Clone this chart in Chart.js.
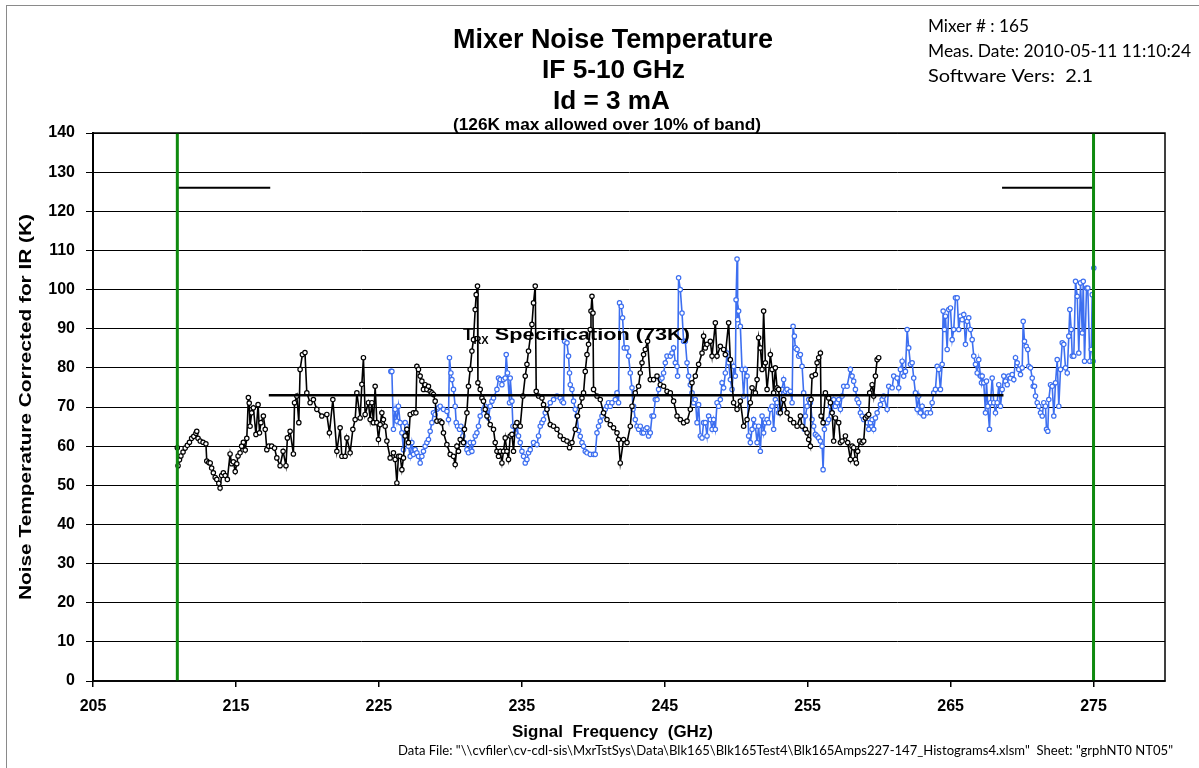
<!DOCTYPE html>
<html>
<head>
<meta charset="utf-8">
<title>Mixer Noise Temperature</title>
<script src="https://cdn.jsdelivr.net/npm/chart.js@4.4.1/dist/chart.umd.min.js"></script>
<style>
  html, body { margin: 0; padding: 0; background: #fff; overflow: hidden; }
  canvas { display: block; }
</style>
</head>
<body>
<canvas id="noiseChart" width="1199" height="768"></canvas>
<script>
const blackFreq = [210.90,210.95,211.05,211.15,211.30,211.45,211.60,211.75,211.90,212.05,212.20,212.26,212.35,212.50,212.70,212.90,212.96,213.10,213.20,213.30,213.42,213.55,213.66,213.80,213.89,214.00,214.12,214.25,214.40,214.59,214.70,214.82,214.95,215.06,215.15,215.29,215.40,215.52,215.65,215.76,215.87,215.93,215.99,216.10,216.22,216.40,216.55,216.65,216.75,216.92,217.05,217.16,217.30,217.50,217.70,217.86,218.09,218.30,218.50,218.60,218.79,219.02,219.10,219.26,219.40,219.49,219.65,219.83,219.96,220.19,220.42,220.66,221.01,221.36,221.54,221.78,222.06,222.29,222.41,222.64,222.76,222.99,223.18,223.34,223.46,223.69,223.81,223.92,224.04,224.27,224.39,224.51,224.62,224.74,224.86,224.97,225.09,225.21,225.32,225.44,225.56,225.79,226.02,226.14,226.26,226.37,226.49,226.61,226.72,226.84,226.96,227.07,227.19,227.42,227.59,227.66,227.77,227.89,228.01,228.12,228.24,228.36,228.47,228.59,228.71,228.82,228.94,229.06,229.29,229.41,229.52,229.76,229.99,230.22,230.34,230.46,230.57,230.69,230.92,230.99,231.16,231.27,231.39,231.51,231.62,231.74,231.81,231.90,231.93,232.09,232.21,232.32,232.44,232.56,232.79,233.02,233.14,233.26,233.37,233.49,233.61,233.72,233.84,233.96,234.07,234.19,234.31,234.42,234.54,234.66,234.89,235.08,235.24,235.36,235.47,235.71,235.82,235.94,236.01,236.17,236.41,236.52,236.76,236.99,237.22,237.46,237.69,237.92,238.16,238.34,238.51,238.74,238.90,239.09,239.21,239.32,239.44,239.56,239.67,239.79,239.84,239.91,239.98,240.02,240.26,240.49,240.72,240.96,241.19,241.42,241.66,241.77,241.89,242.12,242.36,242.59,242.71,242.94,243.17,243.29,243.41,243.52,243.64,243.80,243.99,244.22,244.46,244.69,244.92,245.16,245.39,245.62,245.86,246.09,246.32,246.56,246.79,246.91,247.14,247.37,247.61,247.72,247.84,247.96,248.19,248.31,248.54,248.66,248.89,249.12,249.24,249.47,249.59,249.82,250.06,250.29,250.52,250.76,250.99,251.11,251.34,251.46,251.57,251.69,251.81,251.92,252.04,252.16,252.39,252.51,252.62,252.74,252.86,252.97,253.09,253.32,253.56,253.79,254.02,254.26,254.49,254.61,254.84,254.96,255.07,255.19,255.24,255.31,255.54,255.66,255.77,255.89,255.94,256.08,256.24,256.47,256.59,256.71,256.82,256.94,257.17,257.29,257.41,257.64,257.80,257.99,258.11,258.22,258.34,258.41,258.50,258.64,258.81,258.92,259.04,259.16,259.27,259.34,259.51,259.62,259.74,259.86,259.97];
const blackTemp = [59.6,55.0,56.5,57.5,58.5,59.5,60.2,61.0,62.0,62.5,63.3,63.8,62.0,61.3,61.0,60.6,56.2,55.8,55.7,54.4,53.2,52.0,51.5,50.5,49.3,52.5,53.2,52.5,51.5,58.0,55.5,56.0,53.5,55.5,57.5,58.3,60.0,61.0,59.0,62.0,72.4,71.0,65.1,68.5,69.8,63.0,70.6,63.4,66.0,67.7,64.3,59.1,60.0,60.0,59.5,57.0,55.0,58.7,55.0,62.1,63.8,58.0,71.1,72.8,66.0,79.6,83.4,83.9,73.6,71.1,71.9,69.4,67.7,68.1,63.4,71.9,58.7,64.7,57.4,57.4,62.1,58.3,64.3,66.8,73.6,67.2,75.8,82.6,68.1,71.1,66.8,71.1,66.0,75.3,66.0,61.7,65.5,68.5,66.8,65.1,61.3,57.0,58.3,56.6,50.6,57.4,57.4,54.0,57.0,62.6,64.3,60.9,68.1,68.5,68.5,80.4,79.6,77.9,76.6,74.5,75.7,74.5,75.3,74.0,73.6,73.2,71.5,66.4,66.4,66.0,63.4,60.4,57.9,57.4,55.3,60.0,58.7,61.7,60.9,64.3,68.5,75.3,79.6,84.3,87.2,94.9,98.7,100.9,76.2,74.5,72.3,71.5,69.4,67.7,65.5,64.3,60.9,58.7,57.4,58.7,55.7,58.7,62.1,58.7,56.6,62.6,63.0,58.7,65.1,66.0,65.1,72.8,77.9,80.9,84.3,91.1,96.6,100.9,74.0,72.8,72.3,70.6,69.4,65.5,65.1,64.3,62.6,61.7,61.3,59.6,60.9,64.3,67.7,70.2,72.3,73.6,79.1,83.4,86.0,89.8,94.5,98.3,94.0,74.5,72.8,71.9,68.5,66.8,65.5,64.7,63.4,61.7,55.7,61.7,60.9,65.1,70.2,73.6,75.3,78.7,81.3,83.4,84.7,86.8,77.0,77.0,77.9,75.7,75.3,74.0,73.6,71.5,67.7,66.8,66.0,66.4,69.4,76.2,77.9,80.9,83.8,88.1,85.1,86.0,86.8,83.0,91.5,83.0,85.5,84.7,83.4,91.5,82.1,71.1,69.4,71.5,65.1,66.8,71.1,74.9,73.6,77.0,87.7,85.1,79.6,94.5,81.3,74.5,83.4,79.6,73.6,80.0,74.9,74.5,68.5,71.9,68.5,66.8,66.0,65.1,67.7,65.1,64.3,63.4,61.7,60.0,71.9,77.9,78.3,81.3,82.6,83.8,67.7,66.0,73.6,72.3,71.1,68.5,61.3,67.2,66.0,60.9,61.3,62.6,60.9,56.6,60.0,59.6,56.6,55.7,58.7,61.3,60.9,61.3,67.2,67.7,68.1,73.6,75.7,72.8,77.9,82.1,82.6];

const blueFreq = [225.84,225.91,226.02,226.14,226.26,226.37,226.49,226.61,226.72,226.84,226.96,227.07,227.19,227.31,227.42,227.54,227.66,227.77,227.89,228.01,228.12,228.24,228.36,228.47,228.59,228.71,228.82,228.94,229.06,229.17,229.29,229.52,229.76,229.87,229.94,230.04,230.11,230.22,230.34,230.41,230.50,230.64,230.74,230.88,230.99,231.16,231.27,231.39,231.51,231.62,231.74,231.86,231.97,232.09,232.32,232.44,232.56,232.67,232.79,232.91,233.02,233.26,233.37,233.49,233.61,233.72,233.84,233.91,234.00,234.14,234.19,234.31,234.38,234.54,234.66,234.77,234.89,235.01,235.12,235.24,235.36,235.47,235.59,235.82,236.06,236.17,236.29,236.41,236.52,236.64,236.76,236.99,237.22,237.46,237.69,237.81,237.92,237.99,238.16,238.27,238.34,238.39,238.51,238.62,238.74,238.86,238.98,239.09,239.21,239.32,239.44,239.56,239.79,240.02,240.14,240.26,240.37,240.49,240.61,240.72,240.84,240.96,241.07,241.19,241.31,241.54,241.66,241.77,241.84,241.96,242.05,242.17,242.36,242.47,242.59,242.71,242.78,242.82,242.94,243.06,243.17,243.29,243.41,243.52,243.64,243.76,243.87,243.99,244.11,244.22,244.34,244.46,244.57,244.69,244.81,244.92,245.04,245.16,245.39,245.51,245.62,245.74,245.86,245.90,245.97,246.09,246.21,246.32,246.44,246.56,246.67,246.79,246.91,247.02,247.14,247.26,247.37,247.49,247.61,247.72,247.84,247.96,248.07,248.19,248.31,248.42,248.54,248.66,248.77,248.89,249.01,249.12,249.24,249.36,249.47,249.59,249.71,249.82,249.94,249.99,250.06,250.10,250.17,250.29,250.41,250.52,250.64,250.76,250.87,250.99,251.11,251.22,251.34,251.46,251.57,251.69,251.81,251.92,252.04,252.16,252.27,252.39,252.51,252.62,252.74,252.86,252.97,253.09,253.21,253.32,253.44,253.56,253.67,253.79,253.91,253.98,254.07,254.14,254.26,254.37,254.49,254.61,254.72,254.77,254.84,254.96,255.07,255.19,255.31,255.42,255.54,255.66,255.77,255.89,256.01,256.08,256.17,256.24,256.36,256.47,256.59,256.71,256.82,256.94,257.06,257.17,257.29,257.41,257.52,257.76,257.99,258.11,258.22,258.34,258.46,258.57,258.69,258.81,258.92,259.16,259.27,259.39,259.51,259.62,259.74,259.86,260.09,260.21,260.32,260.56,260.67,260.91,261.02,261.26,261.37,261.49,261.61,261.72,261.84,261.96,262.07,262.19,262.31,262.42,262.54,262.66,262.77,262.89,263.01,263.12,263.36,263.59,263.71,263.82,263.94,264.06,264.17,264.29,264.41,264.48,264.57,264.64,264.76,264.87,264.99,265.11,265.22,265.34,265.46,265.57,265.69,265.81,265.92,266.04,266.16,266.27,266.39,266.51,266.62,266.74,266.86,266.97,267.09,267.16,267.21,267.32,267.44,267.51,267.60,267.72,267.79,267.91,268.02,268.14,268.26,268.37,268.49,268.61,268.72,268.84,268.96,269.07,269.19,269.31,269.42,269.54,269.66,269.77,269.89,270.01,270.08,270.17,270.29,270.40,270.47,270.59,270.71,270.78,270.87,270.94,271.06,271.17,271.29,271.41,271.52,271.64,271.71,271.80,271.87,271.99,272.11,272.22,272.34,272.46,272.57,272.69,272.81,272.92,273.04,273.16,273.27,273.34,273.44,273.51,273.62,273.74,273.86,273.97,274.09,274.21,274.28,274.37,274.51,274.60,274.74,274.84,274.91,274.97,275.02];
const blueTemp = [79.1,79.1,64.3,69.4,66.4,70.2,66.0,63.4,59.1,66.0,65.1,60.0,57.4,60.9,57.9,59.1,58.3,57.4,55.7,57.4,58.7,60.0,60.9,61.7,63.8,66.0,68.5,68.1,69.4,69.8,70.2,69.4,68.9,66.8,82.6,78.7,77.0,74.5,70.2,66.0,65.1,64.3,65.1,62.6,60.9,59.1,58.3,60.9,58.7,60.9,62.6,63.4,65.1,67.7,69.4,70.2,69.4,67.2,70.2,71.5,72.3,74.5,77.4,77.0,75.7,77.0,77.4,83.4,78.7,71.1,77.4,71.5,65.1,63.4,65.1,62.6,60.9,58.7,57.4,55.7,56.6,58.3,59.1,60.9,60.4,62.6,65.1,66.0,66.8,68.5,69.4,71.1,71.9,72.8,72.3,71.5,71.1,86.8,86.4,83.0,78.7,75.7,74.5,71.5,69.4,67.7,64.0,62.5,60.9,60.0,58.7,58.3,57.9,57.9,57.9,63.4,65.1,66.4,67.7,68.5,69.4,70.2,71.1,70.2,71.1,71.9,73.6,71.1,96.6,95.7,92.8,85.1,85.1,83.0,78.7,74.9,69.4,70.2,66.8,65.1,64.3,65.1,63.4,63.4,64.3,64.7,62.6,63.4,67.7,67.7,71.9,71.9,74.5,77.0,77.4,78.7,81.3,83.0,83.0,83.8,85.1,81.3,80.4,77.9,103.0,100.0,94.0,86.8,86.8,81.3,77.9,75.7,73.6,71.1,71.9,66.0,70.6,62.6,62.1,66.0,66.0,62.6,67.7,66.8,64.3,66.8,64.3,71.1,70.2,71.9,76.2,74.9,78.7,83.8,81.3,77.0,74.5,80.4,77.9,97.4,107.8,92.3,94.5,90.6,79.6,72.8,79.6,77.9,62.6,60.9,64.3,66.8,65.1,60.9,65.1,58.7,67.7,63.4,66.0,66.8,66.0,69.4,70.2,64.3,71.9,71.1,68.5,69.4,74.5,77.0,74.0,74.5,73.6,74.0,71.1,90.6,88.1,85.1,84.7,83.0,83.4,80.4,73.6,64.3,67.7,70.2,71.9,71.1,66.8,65.1,63.0,62.6,62.1,61.3,60.0,54.0,64.3,66.0,66.0,66.8,70.2,68.5,71.9,70.2,71.1,71.9,69.4,72.8,75.3,75.3,79.6,77.9,76.6,74.5,71.9,71.1,68.5,67.7,66.8,66.0,64.3,66.0,66.8,64.3,67.2,68.5,70.6,71.9,72.8,69.4,75.3,74.9,77.9,77.4,74.9,79.6,81.7,77.9,79.1,89.8,85.1,80.9,81.3,77.4,73.6,69.4,72.8,68.5,70.2,67.7,68.5,68.5,71.1,73.6,74.5,80.4,79.6,74.5,80.9,94.5,89.8,93.2,84.7,94.9,95.3,87.2,89.8,97.9,97.9,89.8,93.2,92.3,93.6,86.0,91.9,92.8,89.8,87.2,83.0,80.9,78.7,82.1,77.9,76.2,77.9,76.2,68.5,76.6,70.2,64.3,71.1,77.4,71.1,68.5,71.1,75.7,70.2,74.5,77.9,76.6,75.7,77.9,77.4,78.3,77.0,82.6,81.3,79.6,78.3,80.0,91.9,86.8,85.5,84.7,80.4,80.0,77.4,75.3,75.3,72.8,71.1,70.2,68.5,67.7,71.1,70.2,64.3,63.8,71.9,75.7,75.3,67.7,76.2,82.1,70.2,79.6,86.4,86.0,80.0,78.7,88.1,94.9,89.8,83.0,83.0,102.1,98.3,83.8,101.7,88.9,102.1,81.7,100.4,100.4,81.7,84.7,98.7,81.7,105.5];

// axes and limits
const xTickValues = [205, 215, 225, 235, 245, 255, 265, 275];
const bandEdges = [210.9, 275];
const specLimit = 73;
const specRange = [217.3, 268.7];
const maxAllowed = 126;
const maxAllowedRanges = [[210.9, 217.4], [268.6, 275]];

const titleLines = ['Mixer Noise Temperature', 'IF 5-10 GHz', 'Id = 3 mA', '(126K max allowed over 10% of band)'];
const infoLines = ['Mixer # : 165', 'Meas. Date: 2010-05-11 11:10:24', 'Software Vers:  2.1'];
const footerText = 'Data File: "\\\\cvfiler\\cv-cdl-sis\\MxrTstSys\\Data\\Blk165\\Blk165Test4\\Blk165Amps227-147_Histograms4.xlsm"  Sheet: "grphNT0 NT05"';

const ARIAL = '"Liberation Sans", Arial, sans-serif';
const NARROW = 'Lato, "Open Sans", sans-serif';

function pairs(xs, ys) {
    return xs.map((x, i) => ({ x: x, y: ys[i] }));
}

// draw text squeezed/stretched to a given width (the original uses narrow fonts)
function fitText(ctx, text, left, baseline, width, font) {
    ctx.font = font;
    const w = ctx.measureText(text).width;
    ctx.save();
    ctx.translate(left, baseline);
    ctx.scale(width / w, 1);
    ctx.textAlign = 'left';
    ctx.textBaseline = 'alphabetic';
    ctx.fillText(text, 0, 0);
    ctx.restore();
}

const textPlugin = {
    id: 'textPlugin',
    afterDatasetsDraw(chart) {
        const ctx = chart.ctx;
        ctx.save();
        ctx.fillStyle = '#000';
        // T_RX Specification label
        ctx.font = 'bold 17px ' + ARIAL;
        ctx.textBaseline = 'alphabetic';
        ctx.fillText('T', 463, 340);
        const tW = ctx.measureText('T').width;
        ctx.font = 'bold 11px ' + ARIAL;
        ctx.fillText('RX', 463 + tW, 344);
        const rxW = ctx.measureText('RX').width;
        const restLeft = 463 + tW + rxW;
        fitText(ctx, ' Specification (73K)', restLeft, 340, 690 - restLeft, 'bold 16px ' + ARIAL);
        ctx.restore();
    },
    afterDraw(chart) {
        const ctx = chart.ctx;
        const area = chart.chartArea;
        ctx.save();
        // plot frame
        ctx.strokeStyle = '#000';
        ctx.lineWidth = 1.5;
        ctx.strokeRect(area.left, area.top, area.right - area.left, area.bottom - area.top);
        // outer frame
        ctx.strokeStyle = '#8a8a8a';
        ctx.lineWidth = 1;
        ctx.strokeRect(6.5, 5.5, 1300, 900);

        ctx.fillStyle = '#000';
        fitText(ctx, titleLines[0], 453, 48, 320, 'bold 27px ' + ARIAL);
        fitText(ctx, titleLines[1], 542, 78, 143, 'bold 25px ' + ARIAL);
        fitText(ctx, titleLines[2], 553, 109, 117, 'bold 25px ' + ARIAL);
        fitText(ctx, titleLines[3], 453, 130, 308, 'bold 16px ' + ARIAL);

        fitText(ctx, infoLines[0], 928, 32, 101, '17px ' + NARROW);
        fitText(ctx, infoLines[1], 928, 57, 263, '17px ' + NARROW);
        fitText(ctx, infoLines[2], 928, 82, 165, '17px ' + NARROW);

        fitText(ctx, 'Signal  Frequency  (GHz)', 512, 737, 201, 'bold 16px ' + ARIAL);

        ctx.save();
        ctx.translate(31, 600);
        ctx.rotate(-Math.PI / 2);
        fitText(ctx, 'Noise Temperature Corrected for IR (K)', 0, 0, 386, 'bold 16px ' + ARIAL);
        ctx.restore();

        fitText(ctx, footerText, 398, 755, 775, '13px ' + NARROW);
        ctx.restore();
    }
};

const datasets = [];
bandEdges.forEach(f => {
    datasets.push({
        data: [{ x: f, y: 0 }, { x: f, y: 140 }],
        showLine: true, borderColor: '#0f8a0f', borderWidth: 3, pointRadius: 0, order: 0
    });
});
maxAllowedRanges.forEach(r => {
    datasets.push({
        data: [{ x: r[0], y: maxAllowed }, { x: r[1], y: maxAllowed }],
        showLine: true, borderColor: '#000', borderWidth: 2, pointRadius: 0, order: 1
    });
});
datasets.push({
    data: [{ x: specRange[0], y: specLimit }, { x: specRange[1], y: specLimit }],
    showLine: true, borderColor: '#000', borderWidth: 2.5, pointRadius: 0, order: 1
});
datasets.push({
    label: 'Black',
    data: pairs(blackFreq, blackTemp),
    showLine: true, borderColor: '#000', borderWidth: 1.6,
    pointRadius: 2.2, pointBorderWidth: 1.2, pointBorderColor: '#000', pointBackgroundColor: '#fff',
    order: 2
});
datasets.push({
    label: 'Blue',
    data: pairs(blueFreq, blueTemp),
    showLine: true, borderColor: '#3d6ff0', borderWidth: 1.6,
    pointRadius: 2.2, pointBorderWidth: 1.2, pointBorderColor: '#3d6ff0', pointBackgroundColor: '#fff',
    order: 3
});

new Chart(document.getElementById('noiseChart'), {
    type: 'scatter',
    data: { datasets: datasets },
    options: {
        responsive: false,
        animation: false,
        devicePixelRatio: 1,
        layout: { padding: { left: 0, right: 34, top: 133, bottom: 0 } },
        elements: { line: { tension: 0 } },
        plugins: {
            legend: { display: false },
            tooltip: { enabled: false },
            title: { display: false }
        },
        scales: {
            x: {
                type: 'linear',
                min: 205,
                max: 280,
                afterFit: s => { s.height = 87; },
                afterBuildTicks: s => { s.ticks = xTickValues.map(v => ({ value: v })); },
                grid: { drawOnChartArea: false, drawTicks: true, tickLength: 6, color: '#000', lineWidth: 1.5 },
                border: { display: true, color: '#222', width: 2 },
                ticks: {
                    color: '#000', padding: 10, maxRotation: 0, autoSkip: false,
                    font: { family: ARIAL, size: 16, weight: 'bold' }
                }
            },
            y: {
                min: 0,
                max: 140,
                afterFit: s => { s.width = 93; },
                grid: { color: '#000', lineWidth: 1, tickLength: 7 },
                border: { display: true, color: '#000', width: 2 },
                ticks: {
                    stepSize: 10, color: '#000', padding: 11,
                    font: { family: ARIAL, size: 16, weight: 'bold' }
                }
            }
        }
    },
    plugins: [textPlugin]
});
</script>
</body>
</html>
